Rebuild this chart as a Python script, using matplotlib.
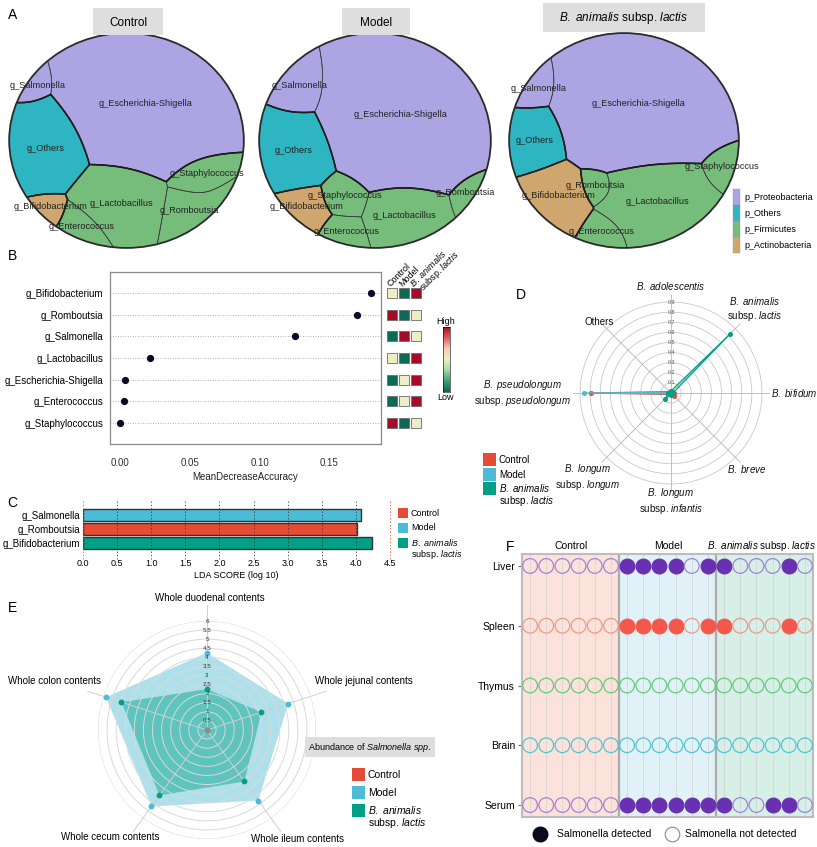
import numpy as np
import matplotlib
matplotlib.use('Agg')
import matplotlib.pyplot as plt
from matplotlib.patches import Rectangle, Circle
from matplotlib.colors import to_rgba, LinearSegmentedColormap

plt.rcParams['font.family'] = ['Liberation Sans', 'DejaVu Sans']
plt.rcParams['mathtext.fontset'] = 'custom'
plt.rcParams['mathtext.rm'] = 'Liberation Sans'
plt.rcParams['mathtext.it'] = 'Liberation Sans:italic'

W, H = 817, 847
BAL = r'$\it{B.\ animalis}$ subsp. $\it{lactis}$'
BAL2 = '$\\it{B.\\ animalis}$\nsubsp. $\\it{lactis}$'

# ---------------- data ----------------
group_names = ['Control', 'Model', BAL]
group_colors = ['#E64B35', '#4DBBD5', '#00A087']

# A: voronoi treemaps (relative abundance)
genera = ['g_Escherichia-Shigella', 'g_Salmonella', 'g_Others', 'g_Lactobacillus',
          'g_Staphylococcus', 'g_Romboutsia', 'g_Enterococcus', 'g_Bifidobacterium']
genus_phylum = ['p_Proteobacteria', 'p_Proteobacteria', 'p_Others', 'p_Firmicutes',
                'p_Firmicutes', 'p_Firmicutes', 'p_Firmicutes', 'p_Actinobacteria']
phyla = ['p_Proteobacteria', 'p_Others', 'p_Firmicutes', 'p_Actinobacteria']
phylum_colors = ['#ADA4E4', '#2DB6C1', '#76BD7B', '#CFA66E']
abund_control = [0.52, 0.02, 0.15, 0.15, 0.05, 0.06, 0.03, 0.02]
abund_model = [0.57, 0.06, 0.13, 0.11, 0.04, 0.02, 0.03, 0.04]
abund_bal = [0.53, 0.03, 0.08, 0.19, 0.03, 0.02, 0.03, 0.09]

# B: random forest
rf_genera = ['g_Bifidobacterium', 'g_Romboutsia', 'g_Salmonella', 'g_Lactobacillus',
             'g_Escherichia-Shigella', 'g_Enterococcus', 'g_Staphylococcus']
rf_mda = [0.180, 0.170, 0.125, 0.021, 0.0033, 0.0026, -0.0005]
rf_heat = [[0.5, 0.0, 1.0], [1.0, 0.0, 0.5], [0.0, 1.0, 0.5], [0.5, 0.0, 1.0],
           [0.0, 0.5, 1.0], [0.0, 0.5, 1.0], [1.0, 0.0, 0.5]]

# C: LEfSe
lda_genera = ['g_Salmonella', 'g_Romboutsia', 'g_Bifidobacterium']
lda_score = [4.08, 4.01, 4.23]
lda_group = [1, 0, 2]

# D: Bifidobacterium species radar
bif_species = [r'$\it{B.\ adolescentis}$', BAL2, r'$\it{B.\ bifidum}$', r'$\it{B.\ breve}$',
               '$\\it{B.\\ longum}$\nsubsp. $\\it{infantis}$',
               '$\\it{B.\\ longum}$\nsubsp. $\\it{longum}$',
               '$\\it{B.\\ pseudolongum}$\nsubsp. $\\it{pseudolongum}$', 'Others']
bif_control = [0.01, 0.02, 0.03, 0.04, 0.01, 0.02, 0.79, 0.02]
bif_model = [0.01, 0.01, 0.01, 0.01, 0.01, 0.01, 0.86, 0.01]
bif_bal = [0.02, 0.83, 0.02, 0.02, 0.02, 0.08, 0.03, 0.02]

# E: Salmonella abundance radar
gut_sites = ['Whole duodenal contents', 'Whole jejunal contents', 'Whole ileum contents',
             'Whole cecum contents', 'Whole colon contents']
salm_control = [0, 0, 0, 0, 0]
salm_model = [4.25, 4.7, 4.8, 5.2, 5.85]
salm_bal = [2.25, 3.15, 3.5, 4.45, 4.95]

# F: detection in organs (6 mice per group)
organs = ['Liver', 'Spleen', 'Thymus', 'Brain', 'Serum']
organ_edge = ['#A383D6', '#EB9A88', '#66CC77', '#55C3D1', '#A383D6']
organ_fill = ['#6A30B2', '#F4584D', '#66CC77', '#55C3D1', '#6A30B2']
liver_det = [0, 0, 0, 0, 0, 0, 1, 1, 1, 1, 0, 1, 1, 0, 0, 0, 1, 0]
spleen_det = [0, 0, 0, 0, 0, 0, 1, 1, 1, 1, 0, 1, 1, 0, 0, 0, 1, 0]
thymus_det = [0] * 18
brain_det = [0] * 18
serum_det = [0, 0, 0, 0, 0, 0, 1, 1, 1, 1, 1, 1, 1, 0, 0, 1, 1, 0]

# ---------------- layout ----------------
tree_sites = {
    'Control': [(0.2, 0.42), (-0.85, 0.5), (-0.75, -0.05), (-0.05, -0.58),
                (0.65, -0.4), (0.7, -0.7), (-0.4, -0.88), (-0.68, -0.72)],
    'Model': [(0.25, 0.2), (-0.7, 0.45), (-0.8, -0.15), (0.25, -0.72),
              (-0.3, -0.55), (0.88, -0.55), (-0.35, -0.9), (-0.68, -0.72)],
    'BAL': [(0.2, 0.35), (-0.85, 0.5), (-0.85, 0.0), (0.3, -0.6),
            (0.85, -0.28), (-0.2, -0.45), (-0.15, -0.9), (-0.62, -0.62)],
}


def pxrect(x0, y0, x1, y1):
    return [x0 / W, 1 - y1 / H, (x1 - x0) / W, (y1 - y0) / H]


fig = plt.figure(figsize=(W / 100, H / 100), dpi=100)


def treemap(ax, abund, sites):
    sites = np.asarray(sites, float)
    t = np.asarray(abund, float)
    t = t / t.sum()
    n = len(t)
    xs = np.linspace(-1, 1, 220)
    X, Y = np.meshgrid(xs, xs)
    ins = X ** 2 + Y ** 2 <= 1
    d = np.hypot(X[ins][None] - sites[:, :1], Y[ins][None] - sites[:, 1:])
    w = np.zeros(n)
    for _ in range(400):
        lab = np.argmin(d - w[:, None], axis=0)
        area = np.bincount(lab, minlength=n) / lab.size
        w += 0.8 * (t - area)

    xs = np.linspace(-1, 1, 700)
    X, Y = np.meshgrid(xs, xs)
    ins = X ** 2 + Y ** 2 <= 1
    D = np.hypot(X[None] - sites[:, 0, None, None], Y[None] - sites[:, 1, None, None]) - w[:, None, None]
    lab = D.argmin(0)
    gp = [phyla.index(p) for p in genus_phylum]
    rgba = np.array([to_rgba(phylum_colors[g]) for g in gp])[lab]
    rgba[~ins, 3] = 0
    ax.set_xlim(-1.01, 1.01)
    ax.set_ylim(-1.01, 1.01)
    ax.axis('off')
    circ = Circle((0, 0), 1, fill=False, lw=1.3, ec='#2a2a2a', zorder=5)
    ax.add_patch(circ)
    im = ax.imshow(rgba, extent=(-1, 1, -1, 1), origin='lower', interpolation='nearest', aspect='auto')
    im.set_clip_path(circ)
    Ds = np.sort(D, axis=0)
    for i in range(n):
        f = D[i] - np.where(lab == i, Ds[1], Ds[0])
        cs = ax.contour(X, Y, f, levels=[0], colors='#3a3a3a', linewidths=0.5)
        cs.set_clip_path(circ)
    for p in sorted(set(gp)):
        idx = [i for i in range(n) if gp[i] == p]
        oth = [i for i in range(n) if gp[i] != p]
        f = D[idx].min(0) - D[oth].min(0)
        cs = ax.contour(X, Y, f, levels=[0], colors='#1e1e1e', linewidths=1.1)
        cs.set_clip_path(circ)
    for i in range(n):
        m = (lab == i) & ins
        if m.sum() == 0:
            continue
        ax.text(X[m].mean(), Y[m].mean(), genera[i], fontsize=6.6, ha='center', va='center',
                color='#222222', zorder=6)


for key, ab, box in [('Control', abund_control, (8, 32, 245, 249)),
                     ('Model', abund_model, (258, 32, 492, 249)),
                     ('BAL', abund_bal, (508, 32, 740, 249))]:
    ax = fig.add_axes(pxrect(*box))
    treemap(ax, ab, tree_sites[key])

# ---- B ----
ax_b = fig.add_axes(pxrect(110, 272, 381, 444))
yb = np.arange(len(rf_genera))[::-1] + 1
for y in yb:
    ax_b.axhline(y, color='#9a9a9a', lw=0.6, ls=(0, (1, 2)), zorder=1)
ax_b.plot(rf_mda, yb, 'o', color='#0a0a28', ms=4.2, zorder=3)
ax_b.set_xlim(-0.0075, 0.187)
ax_b.set_ylim(0.03, 7.97)
ax_b.set_yticks(yb)
ax_b.set_yticklabels(rf_genera, fontsize=7)
ax_b.set_xticks([0, 0.05, 0.10, 0.15])
ax_b.set_xticklabels(['0.00', '0.05', '0.10', '0.15'], fontsize=7, color='#333333')
ax_b.tick_params(length=0, pad=5)
ax_b.tick_params(axis='x', pad=10)
for s in ax_b.spines.values():
    s.set_color('#8a8a8a')
    s.set_linewidth(0.9)

cmap = LinearSegmentedColormap.from_list('hm', ['#0C6B55', '#3FA276', '#A9D9A6', '#EFEDC6',
                                                '#F3C9B8', '#E0575A', '#A50B28'])
ax_h = fig.add_axes(pxrect(386, 272, 422, 444))
ax_h.set_xlim(0.5, 3.5)
ax_h.set_ylim(0.03, 7.97)
ax_h.axis('off')
for r, y in zip(rf_heat, yb):
    for c, v in enumerate(r):
        ax_h.add_patch(Rectangle((c + 1 - 0.4, y - 0.23), 0.8, 0.46, fc=cmap(float(v)),
                                 ec='#6b6b6b', lw=0.6))

ax_cb = fig.add_axes(pxrect(443, 327, 450, 392))
ax_cb.imshow(np.linspace(0, 1, 100)[:, None], cmap=cmap, origin='lower', aspect='auto')
ax_cb.set_xticks([])
ax_cb.set_yticks([])
for s in ax_cb.spines.values():
    s.set_linewidth(0.4)

# ---- C ----
ax_c = fig.add_axes(pxrect(83, 502, 390, 556))
yc = np.arange(len(lda_genera))[::-1]
ax_c.barh(yc, lda_score, height=0.88, color=[group_colors[g] for g in lda_group],
          edgecolor='#333333', lw=1.0, zorder=2)
for xv in np.arange(0, 4.51, 0.5):
    ax_c.axvline(xv, color='#E64B35' if xv in (0, 4.5) else '#333333', lw=0.6,
                 ls=(0, (1.5, 2.5)), zorder=3, ymin=-0.05, ymax=1.05, clip_on=False)
ax_c.set_xlim(0, 4.5)
ax_c.set_ylim(-0.93, 2.93)
ax_c.set_yticks(yc)
ax_c.set_yticklabels(lda_genera, fontsize=7)
ax_c.set_xticks(np.arange(0, 4.51, 0.5))
ax_c.set_xticklabels([f'{v:.1f}' for v in np.arange(0, 4.51, 0.5)], fontsize=6.5)
ax_c.tick_params(length=0, pad=2)
for s in ax_c.spines.values():
    s.set_visible(False)

# ---- D ----
ax_d = fig.add_axes(pxrect(671 - 97, 393 - 97, 671 + 97, 393 + 97), projection='polar')
ax_d.set_theta_offset(np.pi / 2)
ax_d.set_theta_direction(-1)
ax_d.set_ylim(0, 0.96)
ax_d.axis('off')
ang_d = np.arange(len(bif_species)) * 2 * np.pi / len(bif_species)
full = np.linspace(0, 2 * np.pi, 300)
for r in np.arange(0.1, 0.91, 0.1):
    ax_d.plot(full, np.full_like(full, r), color='#C8C8C8', lw=0.6)
for a in ang_d:
    ax_d.plot([a, a], [0, 0.97], color='#B5B5B5', lw=0.6, clip_on=False)
for r in np.arange(0.1, 0.91, 0.1):
    ax_d.text(0, r, f'{r:.1f}', fontsize=3.8, ha='center', va='center', color='#555555')
for vals, col in zip([bif_control, bif_model, bif_bal], group_colors):
    v = np.append(vals, vals[0])
    a = np.append(ang_d, ang_d[0])
    ax_d.plot(a, v, color=col, lw=0.9, marker='o', ms=2.6)
d_lab_r = [1.06, 1.17, 0.99, 1.06, 1.07, 1.17, 0.99, 1.0]
d_lab_ha = ['center', 'center', 'left', 'center', 'center', 'center', 'right', 'center']
for a, lab, r, ha in zip(ang_d, bif_species, d_lab_r, d_lab_ha):
    ax_d.text(a, r, lab, fontsize=7, ha=ha, va='center', multialignment='center',
              clip_on=False, color='#111111')

# ---- E ----
ax_e = fig.add_axes(pxrect(207 - 109, 730 - 109, 207 + 109, 730 + 109), projection='polar')
ax_e.set_theta_offset(np.pi / 2)
ax_e.set_theta_direction(-1)
ax_e.set_ylim(0, 6)
ax_e.axis('off')
ang_e = np.arange(len(gut_sites)) * 2 * np.pi / len(gut_sites)
for r in np.arange(0.5, 6.01, 0.5):
    ax_e.plot(full, np.full_like(full, r), color='#D9D9D9', lw=0.7)
for a in ang_e:
    ax_e.plot([a, a], [0, 6.9], color='#CFCFCF', lw=0.7, clip_on=False)
ae = np.append(ang_e, ang_e[0])
for vals, col, alpha in [(salm_model, group_colors[1], 0.45), (salm_bal, group_colors[2], 0.45)]:
    ax_e.fill(ae, np.append(vals, vals[0]), color=col, alpha=alpha, lw=0)
for r in np.arange(0.5, 6.01, 0.5):
    ax_e.text(0, r, f'{r:g}', fontsize=4.5, ha='center', va='center', color='#333333')
ax_e.plot(ang_e, salm_control, 'o', color='#8E8E8E', ms=3)
ax_e.plot(ang_e, salm_model, 'o', color='#4DBBD5', ms=3.2)
ax_e.plot(ang_e, salm_bal, 'o', color='#0E9A80', ms=3.2)

# ---- F ----
ax_f = fig.add_axes(pxrect(522, 554, 813, 817))
ax_f.set_xlim(-0.5, 17.5)
ax_f.set_ylim(-0.2, 4.2)
for g, bg in enumerate(['#FBE3DC', '#E0F2F8', '#D6F0E7']):
    ax_f.axvspan(g * 6 - 0.5, g * 6 + 5.5, color=bg, zorder=0)
for k in range(18):
    ax_f.axvline(k, color='#D2D2D2', lw=0.5, zorder=1)
for g in (1, 2):
    ax_f.axvline(g * 6 - 0.5, color='#ABABAB', lw=1.6, zorder=2)
xs_f = np.arange(18)
for i, det in enumerate([liver_det, spleen_det, thymus_det, brain_det, serum_det]):
    det = np.asarray(det)
    y = len(organs) - 1 - i
    ax_f.scatter(xs_f[det == 1], np.full((det == 1).sum(), y), s=112, c=organ_fill[i],
                 edgecolors=organ_fill[i], lw=0.9, zorder=3)
    ax_f.scatter(xs_f[det == 0], np.full((det == 0).sum(), y), s=112, facecolors='none',
                 edgecolors=organ_edge[i], lw=0.9, zorder=3)
ax_f.set_yticks(np.arange(len(organs))[::-1])
ax_f.set_yticklabels(organs, fontsize=7.5)
ax_f.set_xticks([])
ax_f.tick_params(axis='y', length=3, color='#666666', pad=2)
for s in ax_f.spines.values():
    s.set_color('#BDBDBD')
    s.set_linewidth(1.5)

# ---------------- overlay (texts, legends) ----------------
ov = fig.add_axes([0, 0, 1, 1], zorder=10)
ov.set_xlim(0, W)
ov.set_ylim(H, 0)
ov.axis('off')

for lab, (x, y) in zip('ABCDEF', [(13, 15), (13, 256), (12, 503), (521, 295), (13, 608), (510, 547)]):
    ov.text(x, y, lab, fontsize=10, ha='center', va='center')

for name, (x0, x1, y0, y1) in zip(group_names, [(93, 163, 8, 35), (342, 410, 8, 35), (543, 705, 3, 32)]):
    ov.add_patch(Rectangle((x0, y0), x1 - x0, y1 - y0, fc='#DEDEDE', ec='none'))
    ov.text((x0 + x1) / 2, (y0 + y1) / 2 + 1, name, fontsize=8.5, ha='center', va='center')

for i, (p, c) in enumerate(zip(phyla, phylum_colors)):
    y = 189 + 16 * i
    ov.add_patch(Rectangle((733, y), 7, 16, fc=c, ec='#9a9a9a', lw=0.3))
    ov.text(744, y + 8, p, fontsize=6.5, va='center')

# B texts
ov.text(245, 477, 'MeanDecreaseAccuracy', fontsize=7, ha='center', va='center', color='#222222')
for x, lab in [(389, 'Control'), (400, 'Model'), (411, r'$\it{B.\ animalis}$')]:
    ov.text(x, 285, lab, fontsize=6.5, rotation=45, rotation_mode='anchor', ha='left', va='center')
ov.text(421, 289, r'subsp. $\it{lactis}$', fontsize=6.5, rotation=45, rotation_mode='anchor',
        ha='left', va='center')
ov.text(446, 321, 'High', fontsize=6.5, ha='center', va='center')
ov.text(446, 397, 'Low', fontsize=6.5, ha='center', va='center')

# C texts
ov.text(236, 575, 'LDA SCORE (log 10)', fontsize=6.5, ha='center', va='center')


def group_legend(x, y0, dy, size, fs):
    for i, (name, col) in enumerate(zip(['Control', 'Model', BAL2], group_colors)):
        y = y0 + i * dy
        ov.add_patch(Rectangle((x, y - size / 2), size, size, fc=col, ec='none'))
        if '\n' in name:
            ov.text(x + size + 3, y - size / 2 - 1, name, fontsize=fs, va='top', linespacing=1.0)
        else:
            ov.text(x + size + 3, y, name, fontsize=fs, va='center')


group_legend(398, 513, 15, 10, 6.5)
group_legend(483, 460, 14.5, 13, 7)
group_legend(352, 775, 18, 13, 7.5)

# E texts
for lab, (x, y) in zip(gut_sites, [(210, 598), (364, 681), (298, 839), (110, 837), (55, 681)]):
    ov.text(x, y, lab, fontsize=7, ha='center', va='center')
ov.text(370, 747, r'Abundance of $\it{Salmonella\ spp.}$', fontsize=6.5, ha='center', va='center',
        bbox=dict(boxstyle='square,pad=0.35', fc='#DEDEDE', ec='none'))

# F texts
for x, lab, fs in [(571, 'Control', 7.5), (668, 'Model', 7.5), (761, BAL, 7.1)]:
    ov.text(x, 546, lab, fontsize=fs, ha='center', va='center')
ov.plot([540], [834], 'o', ms=10.5, color='#0a0a1e')
ov.text(557, 834, 'Salmonella detected', fontsize=7.5, va='center')
ov.plot([672], [834], 'o', ms=10.5, mfc='white', mec='#888888', mew=0.8)
ov.text(685, 834, 'Salmonella not detected', fontsize=7.5, va='center')

fig.savefig('out.png', dpi=100)
